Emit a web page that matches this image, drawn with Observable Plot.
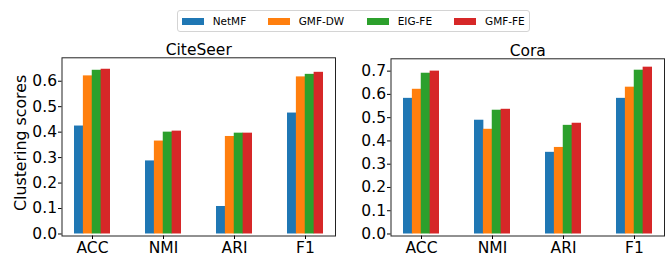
<!DOCTYPE html>
<html><head><meta charset="utf-8">
<script src="https://cdn.jsdelivr.net/npm/d3@7"></script>
<script src="https://cdn.jsdelivr.net/npm/@observablehq/plot@0.6"></script>
<style>
body{margin:0;background:#fff;font-family:"DejaVu Sans",sans-serif;}
#wrap{position:relative;width:668px;height:257px;overflow:hidden;background:#fff;}
#legend{position:absolute;left:177px;top:10px;width:351px;height:20px;border:1px solid #d4d4d4;border-radius:3px;font-size:10.5px;color:#000;}
.item{position:absolute;top:0;height:20px;display:flex;align-items:center;white-space:nowrap;}
.sw{width:22px;height:7px;margin-right:9px;}
#left{position:absolute;left:0;top:35px;}
#right{position:absolute;left:340px;top:35px;}
</style></head>
<body>
<div id="wrap">
  <div id="legend"></div>
  <div id="left"></div>
  <div id="right"></div>
</div>
<script>
// ---- data ----
const metrics = ["ACC", "NMI", "ARI", "F1"];
const methods = ["NetMF", "GMF-DW", "EIG-FE", "GMF-FE"];
const colors = ["#1f77b4", "#ff7f0e", "#2ca02c", "#d62728"];

const citeseerNetMF = [0.424, 0.287, 0.108, 0.475];
const citeseerGMFDW = [0.621, 0.365, 0.383, 0.617];
const citeseerEIGFE = [0.643, 0.400, 0.396, 0.627];
const citeseerGMFFE = [0.647, 0.404, 0.396, 0.635];

const coraNetMF = [0.583, 0.489, 0.351, 0.583];
const coraGMFDW = [0.622, 0.450, 0.372, 0.631];
const coraEIGFE = [0.691, 0.532, 0.467, 0.704];
const coraGMFFE = [0.700, 0.536, 0.476, 0.717];

const citeseerTicks = [0, 0.1, 0.2, 0.3, 0.4, 0.5, 0.6];
const coraTicks = [0, 0.1, 0.2, 0.3, 0.4, 0.5, 0.6, 0.7];
const yLabel = "Clustering scores";

function table(series) {
  const rows = [];
  methods.forEach((m, i) => metrics.forEach((k, j) => rows.push({method: m, metric: k, value: series[i][j]})));
  return rows;
}

// ---- legend ----
const legendOffsets = [3.7, 89.7, 188.7, 276];
const legend = document.getElementById("legend");
methods.forEach((m, i) => {
  const it = document.createElement("div");
  it.className = "item";
  it.style.left = legendOffsets[i] + "px";
  const sw = document.createElement("span");
  sw.className = "sw";
  sw.style.background = colors[i];
  it.appendChild(sw);
  it.appendChild(document.createTextNode(m));
  legend.appendChild(it);
});

// ---- panels ----
function panel(el, title, series, ticks, yDomain, m, withLabel) {
  const data = table(series);
  const W = 340 - (el === "right" ? 12 : 0);
  const pInner = 0.5, pOuter = 0.175;
  const innerW = W - m.left - m.right;
  const band = innerW / (metrics.length - pInner + 2 * pOuter) * (1 - pInner);
  const w = band / methods.length;
  const marks = [];
  methods.forEach((meth, i) => {
    marks.push(Plot.barY(data.filter(d => d.method === meth), {
      x: "metric", y: "value", fill: "method",
      insetLeft: i * w, insetRight: (methods.length - 1 - i) * w
    }));
  });
  marks.push(Plot.frame({stroke: "#222", strokeWidth: 1}));
  marks.push(Plot.axisY({
    ticks, tickFormat: d3.format(".1f"), tickSize: 3.5, tickPadding: 1.5, fontSize: 15.5, label: null
  }));
  marks.push(Plot.axisX({tickSize: 3.5, tickPadding: 2.2, fontSize: 15.5, label: null}));
  marks.push(Plot.text([title], {frameAnchor: "top", lineAnchor: "bottom", dy: -3, fontSize: 15.5, text: d => d}));
  if (withLabel) {
    marks.push(Plot.text([yLabel], {
      frameAnchor: "left", rotate: -90, lineAnchor: "middle", textAnchor: "middle",
      dx: -41.5, dy: -4, fontSize: 15.8, text: d => d
    }));
  }
  const chart = Plot.plot({
    width: W, height: 222,
    marginLeft: m.left, marginRight: m.right, marginTop: m.top, marginBottom: m.bottom,
    style: {fontFamily: "DejaVu Sans", fontSize: "15.5px", color: "#000", background: "#fff"},
    x: {domain: metrics, paddingInner: pInner, paddingOuter: pOuter, align: 0.5, label: null},
    y: {domain: yDomain, label: null},
    color: {domain: methods, range: colors},
    marks
  });
  document.getElementById(el).appendChild(chart);
}

panel("left", "CiteSeer", [citeseerNetMF, citeseerGMFDW, citeseerEIGFE, citeseerGMFFE],
  citeseerTicks, [-0.0079, 0.692], {left: 61.5, right: 5, top: 22.3, bottom: 21.5}, true);
panel("right", "Cora", [coraNetMF, coraGMFDW, coraEIGFE, coraGMFFE],
  coraTicks, [-0.0086, 0.753], {left: 50.5, right: 4, top: 23.3, bottom: 21.5}, false);
</script>
</body></html>
